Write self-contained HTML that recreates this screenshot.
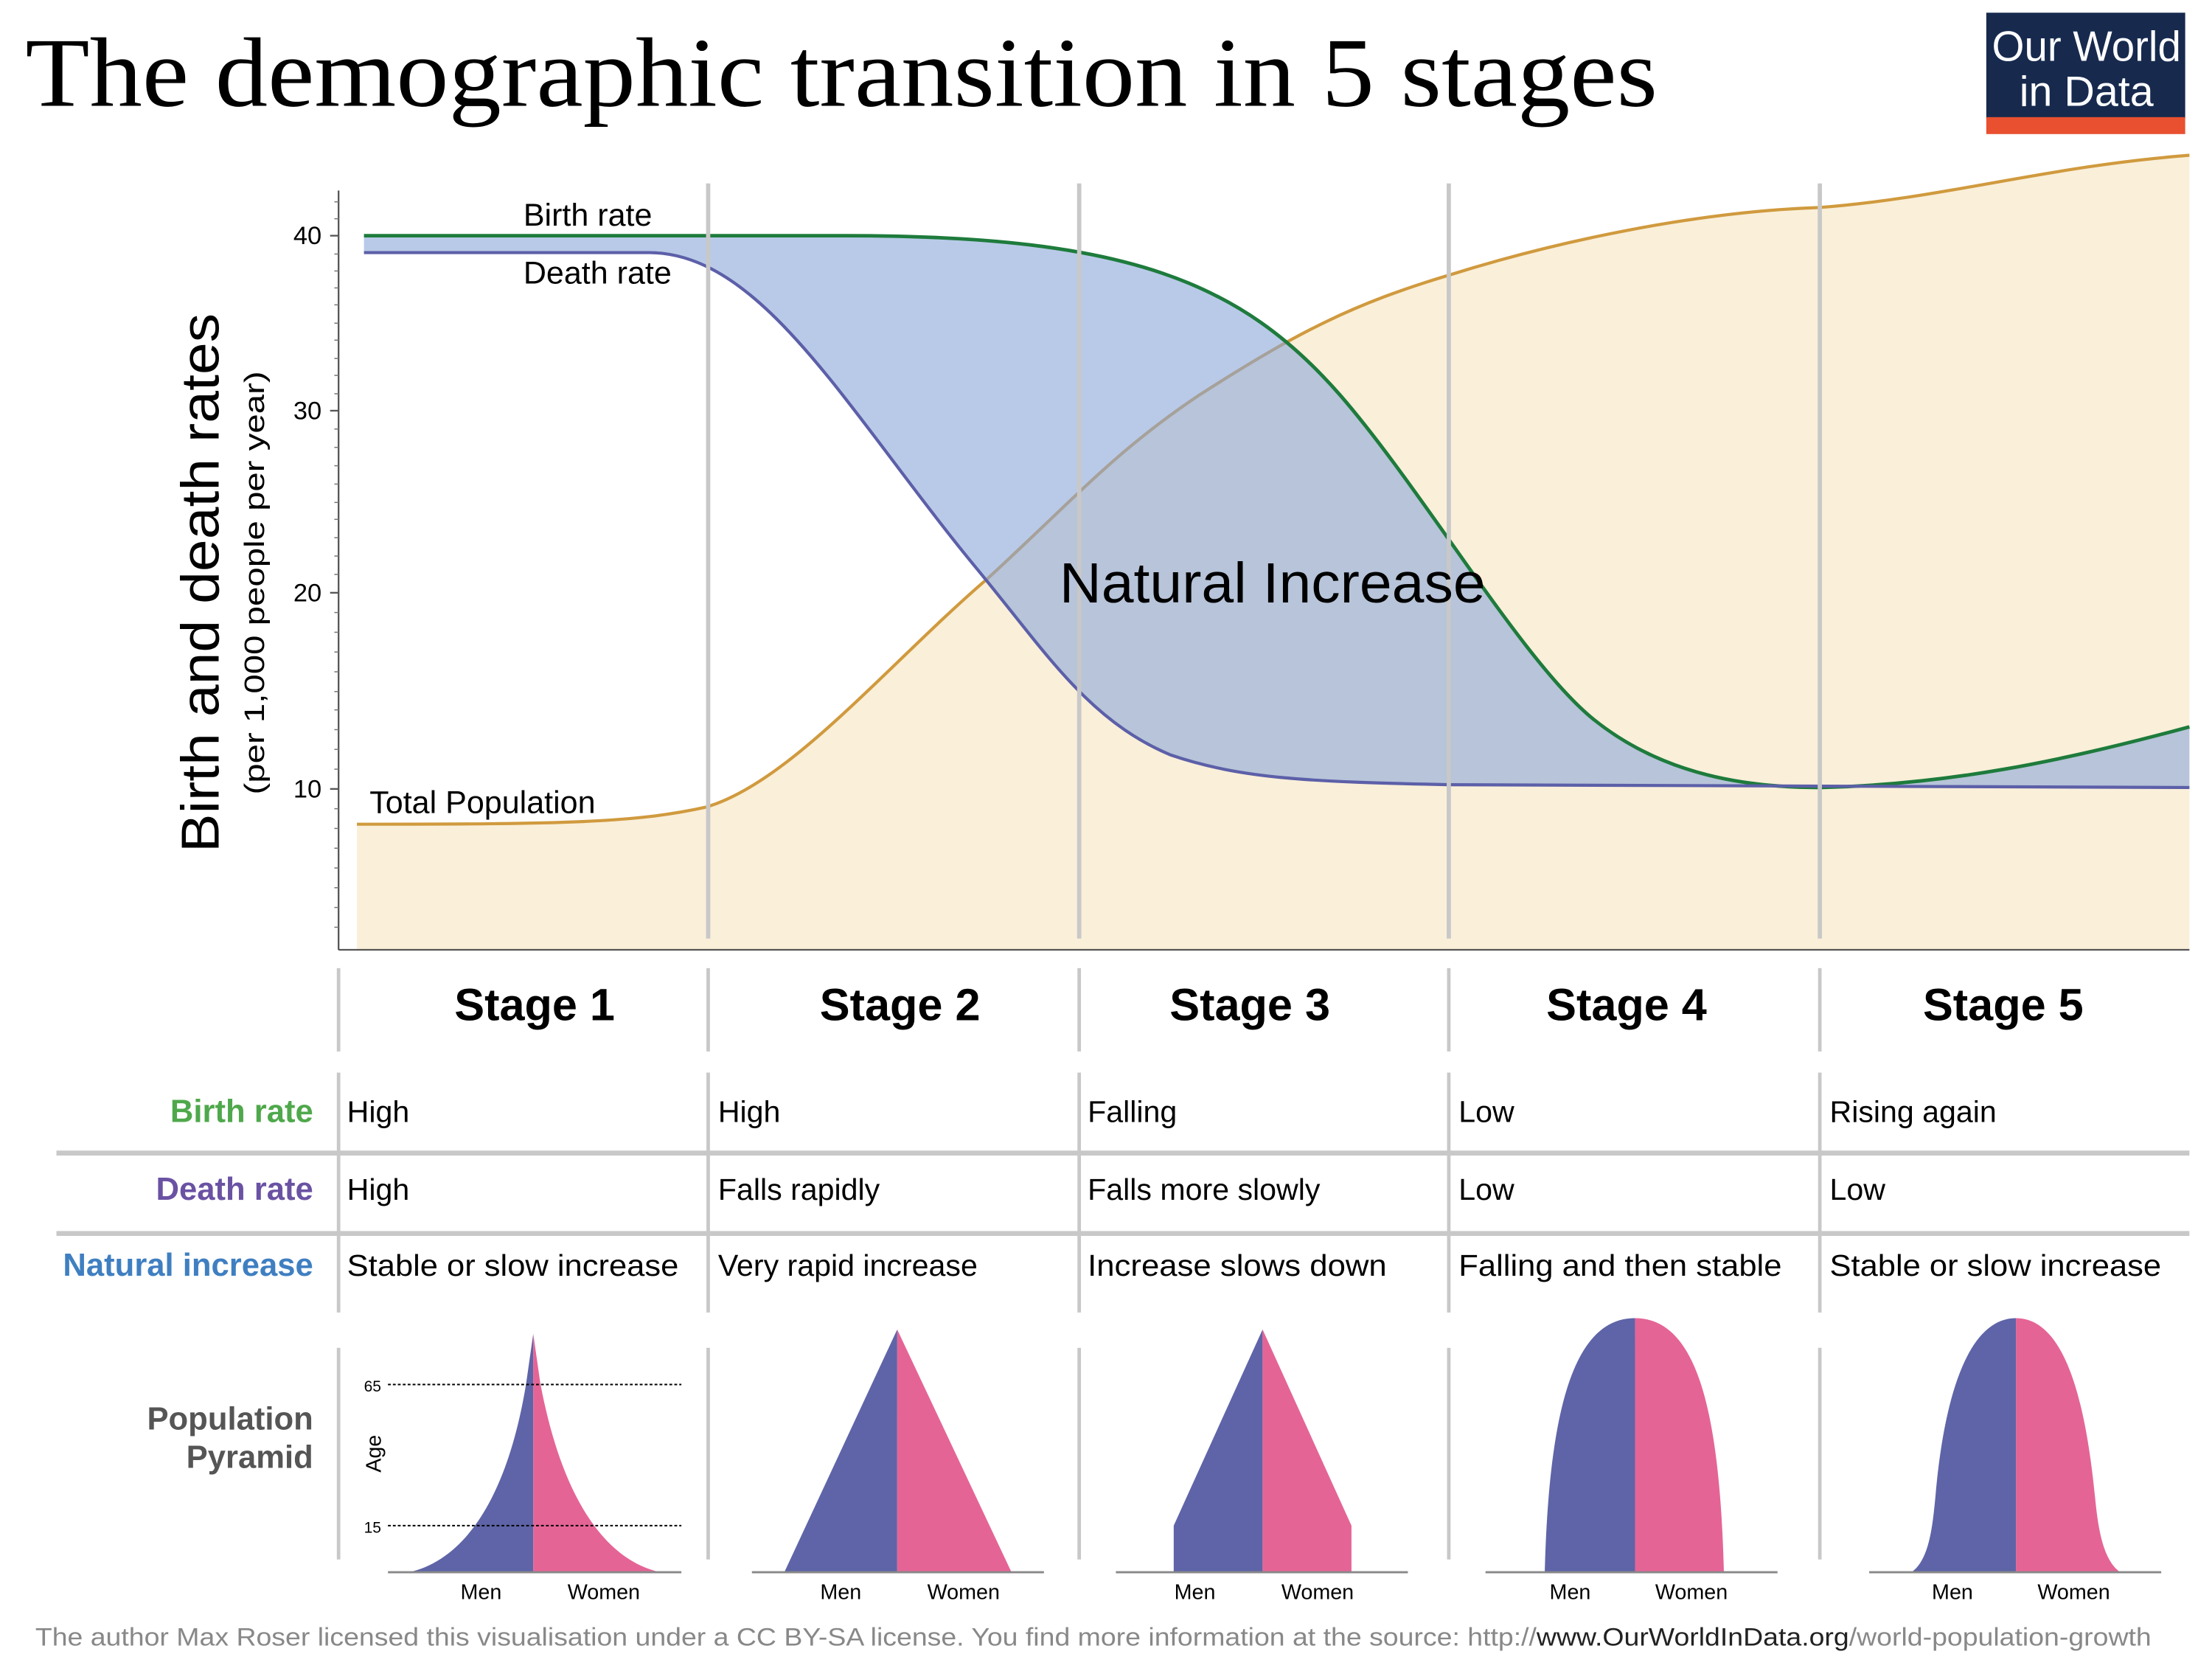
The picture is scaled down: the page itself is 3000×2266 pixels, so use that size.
<!DOCTYPE html>
<html><head><style>html,body{margin:0;padding:0;background:#fff}svg{display:block}</style></head>
<body>
<svg width="3000" height="2266" viewBox="0 0 1568 1184" preserveAspectRatio="none" xmlns="http://www.w3.org/2000/svg" font-family="Liberation Sans, sans-serif">
<rect width="1568" height="1184" fill="#fff"/>
<text x="18" y="75" font-family="Liberation Serif, serif" font-size="70" fill="#000" textLength="1157" lengthAdjust="spacingAndGlyphs">The demographic transition in 5 stages</text>
<rect x="1408" y="9" width="141" height="75" fill="#172a4e"/>
<rect x="1408" y="83" width="141" height="12" fill="#e8502f"/>
<text x="1479" y="43" font-size="30" fill="#fff" text-anchor="middle" textLength="134" lengthAdjust="spacingAndGlyphs">Our World</text>
<text x="1479" y="75" font-size="30" fill="#fff" text-anchor="middle">in Data</text>

<path d="M253,584 C400,584 450,583 500,572 C560,555 630,470 700,410 C760,355 790,320 850,280 C920,235 960,215 1027,195 C1100,172 1200,150 1290,147 C1380,140 1450,118 1552,110 L1552,673 L253,673 Z" fill="#faefd9"/>
<path d="M253,584 C400,584 450,583 500,572 C560,555 630,470 700,410 C760,355 790,320 850,280 C920,235 960,215 1027,195 C1100,172 1200,150 1290,147 C1380,140 1450,118 1552,110" fill="none" stroke="#d09a3e" stroke-width="2.2"/>
<path d="M258,167 L600,167 C800,167 880,200 950,280 C1010,349 1080,470 1130,510 C1180,550 1240,558 1290,558 C1380,556 1460,540 1552,515 L1552,558 L1027,556 C930,554 880,552 830,535 C770,510 740,460 690,400 C600,290 540,179 460,179 L258,179 Z" fill="#8aa7d8" fill-opacity="0.6"/>
<path d="M258,167 L600,167 C800,167 880,200 950,280 C1010,349 1080,470 1130,510 C1180,550 1240,558 1290,558 C1380,556 1460,540 1552,515" fill="none" stroke="#1e7b3c" stroke-width="2.5"/>
<path d="M258,179 L460,179 C540,179 600,290 690,400 C740,460 770,510 830,535 C880,552 930,554 1027,556 L1552,558" fill="none" stroke="#5c5fa8" stroke-width="2.2"/>
<g stroke="#c8c8c8" stroke-width="3">
<line x1="502" y1="130" x2="502" y2="665"/><line x1="765" y1="130" x2="765" y2="665"/><line x1="1027" y1="130" x2="1027" y2="665"/><line x1="1290" y1="130" x2="1290" y2="665"/>
</g>
<g stroke="#555" stroke-width="1.2">
<line x1="240" y1="135" x2="240" y2="673"/><line x1="240" y1="673" x2="1552" y2="673"/>
<line x1="234" y1="167" x2="240" y2="167"/><line x1="234" y1="291" x2="240" y2="291"/><line x1="234" y1="420" x2="240" y2="420"/><line x1="234" y1="559" x2="240" y2="559"/>
</g>
<g stroke="#777" stroke-width="0.8">
<line x1="237" y1="143" x2="240" y2="143"/><line x1="237" y1="155" x2="240" y2="155"/><line x1="237" y1="180" x2="240" y2="180"/><line x1="237" y1="192" x2="240" y2="192"/><line x1="237" y1="204" x2="240" y2="204"/><line x1="237" y1="216" x2="240" y2="216"/><line x1="237" y1="229" x2="240" y2="229"/><line x1="237" y1="241" x2="240" y2="241"/><line x1="237" y1="254" x2="240" y2="254"/><line x1="237" y1="266" x2="240" y2="266"/><line x1="237" y1="279" x2="240" y2="279"/><line x1="237" y1="304" x2="240" y2="304"/><line x1="237" y1="317" x2="240" y2="317"/><line x1="237" y1="330" x2="240" y2="330"/><line x1="237" y1="343" x2="240" y2="343"/><line x1="237" y1="356" x2="240" y2="356"/><line x1="237" y1="368" x2="240" y2="368"/><line x1="237" y1="381" x2="240" y2="381"/><line x1="237" y1="394" x2="240" y2="394"/><line x1="237" y1="407" x2="240" y2="407"/><line x1="237" y1="434" x2="240" y2="434"/><line x1="237" y1="448" x2="240" y2="448"/><line x1="237" y1="462" x2="240" y2="462"/><line x1="237" y1="476" x2="240" y2="476"/><line x1="237" y1="490" x2="240" y2="490"/><line x1="237" y1="503" x2="240" y2="503"/><line x1="237" y1="517" x2="240" y2="517"/><line x1="237" y1="531" x2="240" y2="531"/><line x1="237" y1="545" x2="240" y2="545"/><line x1="237" y1="573" x2="240" y2="573"/><line x1="237" y1="587" x2="240" y2="587"/><line x1="237" y1="601" x2="240" y2="601"/><line x1="237" y1="615" x2="240" y2="615"/><line x1="237" y1="629" x2="240" y2="629"/><line x1="237" y1="643" x2="240" y2="643"/><line x1="237" y1="657" x2="240" y2="657"/>
</g>
<g font-size="18" text-anchor="end" fill="#000"><text x="228" y="173">40</text><text x="228" y="297">30</text><text x="228" y="426">20</text><text x="228" y="565">10</text></g>
<text transform="translate(155,413) rotate(-90)" font-size="38" text-anchor="middle" textLength="382" lengthAdjust="spacingAndGlyphs">Birth and death rates</text>
<text transform="translate(187,413) rotate(-90)" font-size="20" text-anchor="middle" textLength="300" lengthAdjust="spacingAndGlyphs">(per 1,000 people per year)</text>
<g font-size="22.5"><text x="371" y="160">Birth rate</text><text x="371" y="201">Death rate</text><text x="262" y="576">Total Population</text></g>
<text x="751" y="427" font-size="40" textLength="302" lengthAdjust="spacingAndGlyphs">Natural Increase</text>

<g stroke="#c8c8c8" stroke-width="2.5">
<line x1="240" y1="686" x2="240" y2="745"/><line x1="502" y1="686" x2="502" y2="745"/><line x1="765" y1="686" x2="765" y2="745"/><line x1="1027" y1="686" x2="1027" y2="745"/><line x1="1290" y1="686" x2="1290" y2="745"/>
<line x1="240" y1="760" x2="240" y2="930"/><line x1="502" y1="760" x2="502" y2="930"/><line x1="765" y1="760" x2="765" y2="930"/><line x1="1027" y1="760" x2="1027" y2="930"/><line x1="1290" y1="760" x2="1290" y2="930"/>
<line x1="240" y1="955" x2="240" y2="1105"/><line x1="502" y1="955" x2="502" y2="1105"/><line x1="765" y1="955" x2="765" y2="1105"/><line x1="1027" y1="955" x2="1027" y2="1105"/><line x1="1290" y1="955" x2="1290" y2="1105"/>
</g>
<g stroke="#c8c8c8" stroke-width="3.5"><line x1="40" y1="817" x2="1552" y2="817"/><line x1="40" y1="874" x2="1552" y2="874"/></g>
<g font-size="32" font-weight="bold" text-anchor="middle"><text x="379" y="723">Stage 1</text><text x="638" y="723">Stage 2</text><text x="886" y="723">Stage 3</text><text x="1153" y="723">Stage 4</text><text x="1420" y="723">Stage 5</text></g>
<g font-size="22.8" font-weight="bold" text-anchor="end">
<text x="222" y="795" fill="#4fa84b">Birth rate</text><text x="222" y="850" fill="#6a52a3">Death rate</text><text x="222" y="904" fill="#3f7fc1">Natural increase</text>
<text x="222" y="1013" fill="#555">Population</text><text x="222" y="1040" fill="#555">Pyramid</text></g>
<g font-size="21.5">
<text x="246" y="795">High</text><text x="509" y="795">High</text><text x="771" y="795">Falling</text><text x="1034" y="795">Low</text><text x="1297" y="795">Rising again</text>
<text x="246" y="850">High</text><text x="509" y="850">Falls rapidly</text><text x="771" y="850">Falls more slowly</text><text x="1034" y="850">Low</text><text x="1297" y="850">Low</text>
<text x="246" y="904" textLength="235" lengthAdjust="spacingAndGlyphs">Stable or slow increase</text><text x="509" y="904">Very rapid increase</text><text x="771" y="904" textLength="212" lengthAdjust="spacingAndGlyphs">Increase slows down</text><text x="1034" y="904" textLength="229" lengthAdjust="spacingAndGlyphs">Falling and then stable</text><text x="1297" y="904" textLength="235" lengthAdjust="spacingAndGlyphs">Stable or slow increase</text>
</g>

<path d="M378,945 L378,1114 L290,1114 C330,1105 360,1060 373,980 Z" fill="#5e64a7"/>
<path d="M378,945 L378,1114 L468,1114 C428,1105 398,1060 383,980 Z" fill="#e56496"/>
<g stroke="#000" stroke-width="1" stroke-dasharray="2,1.5"><line x1="275" y1="981" x2="483" y2="981"/><line x1="275" y1="1081" x2="483" y2="1081"/></g>
<g font-size="11"><text x="258" y="986">65</text><text x="258" y="1086">15</text></g>
<text transform="translate(270,1030) rotate(-90)" font-size="15" text-anchor="middle">Age</text>

<path d="M636,942 L636,1114 L556,1114 Z" fill="#5e64a7"/><path d="M636,942 L636,1114 L717,1114 Z" fill="#e56496"/>
<path d="M895,942 L895,1114 L832,1114 L832,1081 Z" fill="#5e64a7"/><path d="M895,942 L895,1114 L958,1114 L958,1081 Z" fill="#e56496"/>
<path d="M1159,934 L1159,1114 L1095,1114 C1098,1000 1115,934 1159,934 Z" fill="#5e64a7"/>
<path d="M1159,934 L1159,1114 L1222,1114 C1219,1000 1203,934 1159,934 Z" fill="#e56496"/>
<path d="M1429,934 L1429,1114 L1355,1114 C1368,1105 1370,1080 1372,1060 C1378,990 1395,934 1429,934 Z" fill="#5e64a7"/>
<path d="M1429,934 L1429,1114 L1503,1114 C1490,1105 1487,1080 1485,1060 C1478,990 1463,934 1429,934 Z" fill="#e56496"/>
<g stroke="#888" stroke-width="1.5">
<line x1="275" y1="1114" x2="483" y2="1114"/><line x1="533" y1="1114" x2="740" y2="1114"/><line x1="791" y1="1114" x2="998" y2="1114"/><line x1="1053" y1="1114" x2="1260" y2="1114"/><line x1="1325" y1="1114" x2="1532" y2="1114"/></g>
<g font-size="15" text-anchor="middle">
<text x="341" y="1133">Men</text><text x="428" y="1133">Women</text>
<text x="596" y="1133">Men</text><text x="683" y="1133">Women</text>
<text x="847" y="1133">Men</text><text x="934" y="1133">Women</text>
<text x="1113" y="1133">Men</text><text x="1199" y="1133">Women</text>
<text x="1384" y="1133">Men</text><text x="1470" y="1133">Women</text></g>

<text x="25" y="1166" font-size="18" fill="#888" textLength="1500" lengthAdjust="spacingAndGlyphs">The author Max Roser licensed this visualisation under a CC BY-SA license. You find more information at the source: http://<tspan fill="#222">www.OurWorldInData.org</tspan>/world-population-growth</text>
</svg>
</body></html>
